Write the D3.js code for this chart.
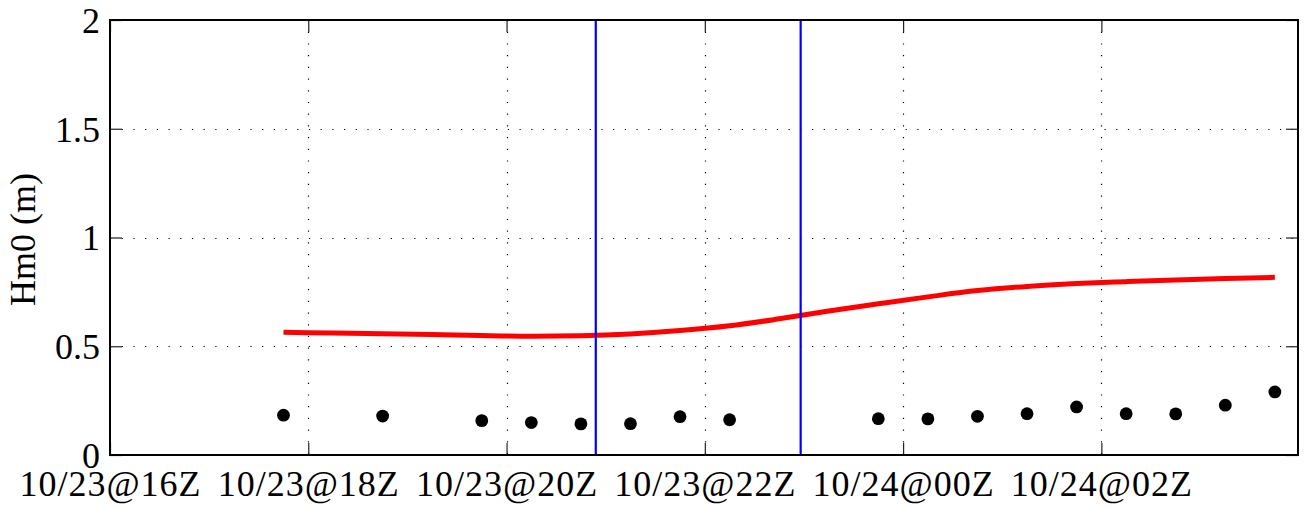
<!DOCTYPE html>
<html>
<head>
<meta charset="utf-8">
<script src="https://cdn.jsdelivr.net/npm/d3@7"></script>
<style>
  html, body { margin: 0; padding: 0; background: #fff; }
  svg { display: block; }
  text { font-family: "Liberation Serif", "Times New Roman", serif; fill: #000; }
</style>
</head>
<body>
<svg id="chart" width="1307" height="507"></svg>
<script>
// ---- data ----
const xTickTimes = ["10/23 16:00", "10/23 18:00", "10/23 20:00", "10/23 22:00", "10/24 00:00", "10/24 02:00"];
const xTickLabels = ["10/23@16Z", "10/23@18Z", "10/23@20Z", "10/23@22Z", "10/24@00Z", "10/24@02Z"];
const yTicks = [0, 0.5, 1, 1.5, 2];
const yTickLabels = ["0", "0.5", "1", "1.5", "2"];
const xDomain = ["10/23 16:00", "10/24 03:59"];
const yDomain = [0, 2];

// observed (black dots)
const obsTimes = ["10/23 17:45", "10/23 18:45", "10/23 19:45", "10/23 20:15", "10/23 20:45",
  "10/23 21:15", "10/23 21:45", "10/23 22:15", "10/23 23:45", "10/24 00:15", "10/24 00:45",
  "10/24 01:15", "10/24 01:45", "10/24 02:15", "10/24 02:45", "10/24 03:15", "10/24 03:45"];
const obsValues = [0.183, 0.179, 0.158, 0.149, 0.143, 0.144, 0.176, 0.162, 0.167, 0.166, 0.178,
  0.190, 0.221, 0.190, 0.189, 0.229, 0.290];

// model (red line)
const modelTimes = ["10/23 17:45", "10/23 18:15", "10/23 18:45", "10/23 19:15", "10/23 19:45",
  "10/23 20:15", "10/23 20:45", "10/23 21:15", "10/23 21:45", "10/23 22:15", "10/23 22:45",
  "10/23 23:15", "10/23 23:45", "10/24 00:15", "10/24 00:45", "10/24 01:15", "10/24 01:45",
  "10/24 02:15", "10/24 02:45", "10/24 03:15", "10/24 03:45"];
const modelValues = [0.564, 0.561, 0.558, 0.554, 0.549, 0.546, 0.548, 0.556, 0.572, 0.594, 0.626,
  0.662, 0.695, 0.727, 0.756, 0.775, 0.788, 0.797, 0.805, 0.811, 0.817];

// vertical markers (blue)
const markerTimes = ["10/23 20:54", "10/23 22:58"];

// ---- drawing ----
const parse = d3.utcParse("%m/%d %H:%M");
const svg = d3.select("#chart");
const L = 110, R = 1298, T = 20, B = 455;

const x = d3.scaleUtc().domain(xDomain.map(parse)).range([L, R]);
const y = d3.scaleLinear().domain(yDomain).range([B, T]);

const tickLen = 12;
const xt = xTickTimes.map(parse);

// grid
const grid = svg.append("g");
grid.selectAll("line.gx").data(xt.slice(1)).join("line")
  .attr("x1", d => Math.round(x(d)) + 0.5).attr("x2", d => Math.round(x(d)) + 0.5)
  .attr("y1", T).attr("y2", B)
  .attr("stroke", "#000").attr("stroke-width", 1.2).attr("stroke-dasharray", "1.2,10.5");
grid.selectAll("line.gy").data(yTicks.slice(1, -1)).join("line")
  .attr("y1", d => Math.round(y(d)) + 0.5).attr("y2", d => Math.round(y(d)) + 0.5)
  .attr("x1", L).attr("x2", R)
  .attr("stroke", "#000").attr("stroke-width", 1.2).attr("stroke-dasharray", "1.2,10.5");

// axes via d3 (inner ticks)
const xAxisB = d3.axisBottom(x).tickValues(xt).tickSize(-tickLen).tickFormat((d, i) => xTickLabels[i]).tickPadding(20);
const gxB = svg.append("g").attr("transform", `translate(0,${B})`).call(xAxisB);
gxB.select(".domain").remove();
gxB.selectAll(".tick line").attr("stroke", "#222").attr("stroke-width", 1.2);
gxB.selectAll(".tick text").attr("font-size", 36).attr("font-family", "Liberation Serif").attr("fill", "#000")
  .attr("letter-spacing", 1).attr("dy", null).attr("y", 41);

const xAxisT = d3.axisTop(x).tickValues(xt).tickSize(-tickLen).tickFormat("");
const gxT = svg.append("g").attr("transform", `translate(0,${T})`).call(xAxisT);
gxT.select(".domain").remove();
gxT.selectAll(".tick line").attr("stroke", "#222").attr("stroke-width", 1.2);

const yAxisL = d3.axisLeft(y).tickValues(yTicks).tickSize(-tickLen).tickFormat((d, i) => yTickLabels[i]).tickPadding(10);
const gyL = svg.append("g").attr("transform", `translate(${L},0)`).call(yAxisL);
gyL.select(".domain").remove();
gyL.selectAll(".tick line").attr("stroke", "#222").attr("stroke-width", 1.2);
gyL.selectAll(".tick text").attr("font-size", 36).attr("font-family", "Liberation Serif").attr("fill", "#000")
  .attr("x", -10).attr("dy", "0.34em");

const yAxisR = d3.axisRight(y).tickValues(yTicks).tickSize(-tickLen).tickFormat("");
const gyR = svg.append("g").attr("transform", `translate(${R},0)`).call(yAxisR);
gyR.select(".domain").remove();
gyR.selectAll(".tick line").attr("stroke", "#222").attr("stroke-width", 1.2);

// model line
const model = modelTimes.map((t, i) => ({ t: parse(t), v: modelValues[i] }));
svg.append("path").datum(model)
  .attr("d", d3.line().x(d => x(d.t)).y(d => y(d.v)).curve(d3.curveMonotoneX))
  .attr("fill", "none").attr("stroke", "#ff0000").attr("stroke-width", 5);

// observed dots
const obs = obsTimes.map((t, i) => ({ t: parse(t), v: obsValues[i] }));
svg.append("g").selectAll("circle").data(obs).join("circle")
  .attr("cx", d => x(d.t)).attr("cy", d => y(d.v)).attr("r", 6.4).attr("fill", "#000");

// blue markers
svg.append("g").selectAll("line").data(markerTimes.map(parse)).join("line")
  .attr("x1", d => x(d)).attr("x2", d => x(d)).attr("y1", T).attr("y2", B)
  .attr("stroke", "#0000ff").attr("stroke-width", 2.2);

// frame
svg.append("rect").attr("x", L).attr("y", T).attr("width", R - L).attr("height", B - T)
  .attr("fill", "none").attr("stroke", "#000").attr("stroke-width", 2);

// y label
svg.append("text")
  .attr("transform", `translate(35,${(T + B) / 2 + 2}) rotate(-90)`)
  .attr("text-anchor", "middle").attr("font-size", 36)
  .text("Hm0 (m)");
</script>
</body>
</html>
